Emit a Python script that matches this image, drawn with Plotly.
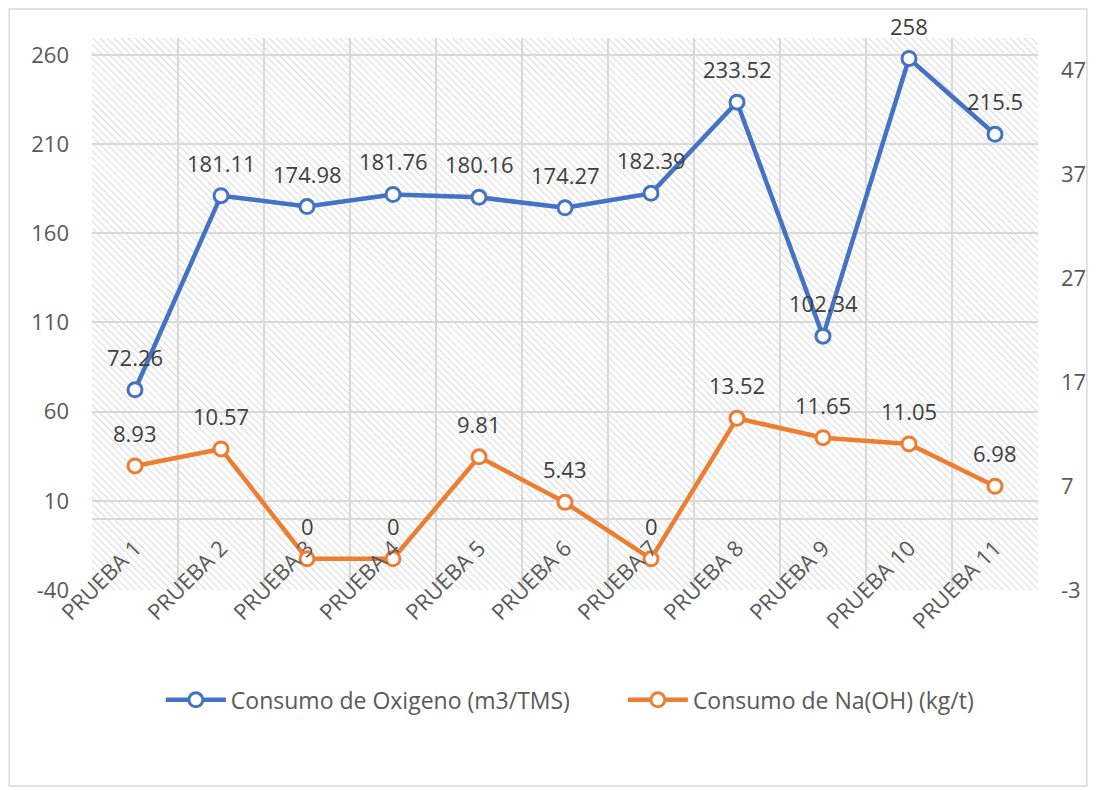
import base64
import plotly.graph_objects as go

categories = ["PRUEBA 1", "PRUEBA 2", "PRUEBA 3", "PRUEBA 4", "PRUEBA 5", "PRUEBA 6",
              "PRUEBA 7", "PRUEBA 8", "PRUEBA 9", "PRUEBA 10", "PRUEBA 11"]
oxigeno = [72.26, 181.11, 174.98, 181.76, 180.16, 174.27, 182.39, 233.52, 102.34, 258, 215.5]
naoh = [8.93, 10.57, 0, 0, 9.81, 5.43, 0, 13.52, 11.65, 11.05, 6.98]
left_ticks = [-40, 10, 60, 110, 160, 210, 260]
left_labels = ["-40", "10", "60", "110", "160", "210", "260"]
right_ticks = [-3, 7, 17, 27, 37, 47]
right_labels = ["-3", "7", "17", "27", "37", "47"]

BLUE = "#4472C4"
ORANGE = "#ED7D31"
GRID = "#d9d9d9"
FONT = "Open Sans"

# hatched plot background
svg = ("<svg xmlns='http://www.w3.org/2000/svg' width='948' height='552'>"
       "<defs><pattern id='p' width='5' height='5' patternUnits='userSpaceOnUse' "
       "patternTransform='rotate(-45)'><line x1='0' y1='0' x2='0' y2='5' "
       "stroke='#cccccc' stroke-width='1.4'/></pattern></defs>"
       "<rect width='100%' height='100%' fill='white'/>"
       "<rect width='100%' height='100%' fill='url(#p)'/></svg>")
svg_uri = "data:image/svg+xml;base64," + base64.b64encode(svg.encode()).decode()

fig = go.Figure()
fig.add_trace(go.Scatter(
    x=categories, y=oxigeno, name="Consumo de Oxigeno (m3/TMS)", mode="lines+markers",
    line=dict(color=BLUE, width=4.5),
    marker=dict(symbol="circle", size=14, color="white", line=dict(color=BLUE, width=3)),
    yaxis="y", legend="legend"))
fig.add_trace(go.Scatter(
    x=categories, y=naoh, name="Consumo de Na(OH) (kg/t)", mode="lines+markers",
    line=dict(color=ORANGE, width=4.5),
    marker=dict(symbol="circle", size=14, color="white", line=dict(color=ORANGE, width=3)),
    yaxis="y2", legend="legend2"))

annotations = []
for c, v in zip(categories, oxigeno):
    annotations.append(dict(x=c, y=v, xref="x", yref="y", text=f"{v:g}", showarrow=False,
                            yshift=33, font=dict(family=FONT, size=22, color="#404040")))
for c, v in zip(categories, naoh):
    annotations.append(dict(x=c, y=v, xref="x", yref="y2", text=f"{v:g}", showarrow=False,
                            yshift=33, font=dict(family=FONT, size=22, color="#404040")))

legend_style = dict(orientation="h", xanchor="left", y=-0.199, yanchor="middle",
                    font=dict(family=FONT, size=23, color="#595959"), itemwidth=60,
                    bgcolor="rgba(0,0,0,0)")

fig.update_layout(
    width=1098, height=790,
    margin=dict(l=92, r=58, t=38, b=200),
    paper_bgcolor="white", plot_bgcolor="white",
    font=dict(family=FONT, size=22, color="#595959"),
    showlegend=True,
    legend=dict(x=(161 - 92) / 948, **legend_style),
    legend2=dict(x=(624 - 92) / 948, **legend_style),
    xaxis=dict(type="category", categoryorder="array", categoryarray=categories,
               range=[-0.5, 10.5], tickson="boundaries", showgrid=True, gridcolor=GRID,
               gridwidth=2, tickangle=-45, anchor="free", position=(590 - 530) / 552,
               showline=False, ticks="", zeroline=False,
               tickfont=dict(family=FONT, size=22, color="#595959")),
    yaxis=dict(range=[-40, 269.5], tickmode="array", tickvals=left_ticks,
               ticktext=left_labels,
               showgrid=True, gridcolor=GRID, gridwidth=2,
               zeroline=True, zerolinecolor=GRID, zerolinewidth=2,
               showline=False, ticks="", ticklabelstandoff=22,
               tickfont=dict(family=FONT, size=22, color="#595959")),
    yaxis2=dict(range=[-3, 50.1], tickmode="array", tickvals=right_ticks,
                ticktext=right_labels,
                overlaying="y", side="right", showgrid=False, zeroline=False,
                showline=False, ticks="", ticklabelstandoff=22,
                tickfont=dict(family=FONT, size=22, color="#595959")),
    annotations=annotations,
    images=[dict(source=svg_uri, xref="paper", yref="paper", x=0, y=1, sizex=1, sizey=1,
                 sizing="stretch", layer="below", xanchor="left", yanchor="top")],
    shapes=[dict(type="rect", xref="paper", yref="paper",
                 x0=(9 - 92) / 948, x1=(1089 - 92) / 948,
                 y0=(590 - 786) / 552, y1=(590 - 9) / 552,
                 line=dict(color=GRID, width=1.5), fillcolor="rgba(0,0,0,0)", layer="below")],
)

fig.write_html("out.html")
